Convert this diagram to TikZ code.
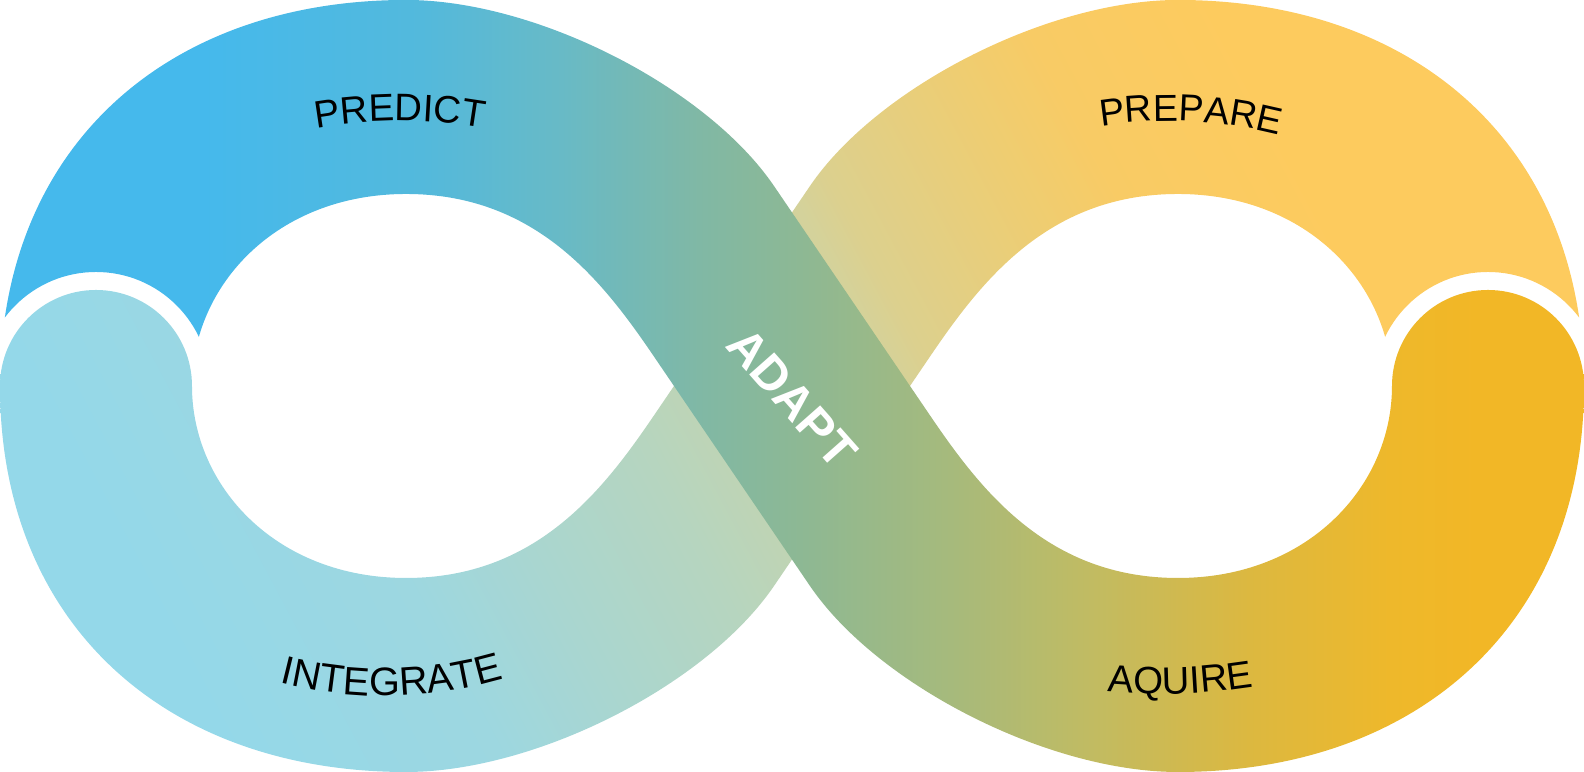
\documentclass[tikz,border=0pt]{standalone}
\usepackage{fontspec}
\newfontfamily\labelfont{Liberation Sans}
\usetikzlibrary{decorations.text}

\definecolor{blueA}{HTML}{45B9EC}
\definecolor{blueB}{HTML}{53B9DC}
\definecolor{tealA}{HTML}{68BAC6}
\definecolor{tealB}{HTML}{80B8A5}
\definecolor{greenA}{HTML}{8DB894}
\definecolor{greenB}{HTML}{A6BA7C}
\definecolor{oliveA}{HTML}{C1BB62}
\definecolor{oliveB}{HTML}{DCB840}
\definecolor{goldA}{HTML}{EEB82B}
\definecolor{goldB}{HTML}{F2B726}

\definecolor{skyA}{HTML}{94D8E9}
\definecolor{skyB}{HTML}{9DD7E0}
\definecolor{mintA}{HTML}{A9D6D0}
\definecolor{mintB}{HTML}{B6D5BF}
\definecolor{paleA}{HTML}{D4D29B}
\definecolor{paleB}{HTML}{DCD08E}
\definecolor{sandA}{HTML}{EECD72}
\definecolor{sandB}{HTML}{F8CB65}
\definecolor{sandC}{HTML}{FDCB5E}

\pgfdeclarehorizontalshading{frontfade}{100bp}{color(0bp)=(blueA); color(33.6bp)=(blueA);
  color(39.7bp)=(blueB); color(43.6bp)=(tealA); color(47.4bp)=(tealB); color(50.2bp)=(greenA);
  color(54.4bp)=(greenB); color(58.3bp)=(oliveA); color(62.7bp)=(oliveB); color(66.6bp)=(goldA);
  color(69.1bp)=(goldB); color(100bp)=(goldB)}
\pgfdeclarehorizontalshading{backfade}{100bp}{color(0bp)=(skyA); color(31.3bp)=(skyA);
  color(38bp)=(skyB); color(41.4bp)=(mintA); color(45.6bp)=(mintB); color(52.5bp)=(paleA);
  color(53.6bp)=(paleB); color(58.1bp)=(sandA); color(60.5bp)=(sandB); color(65.4bp)=(sandC);
  color(100bp)=(sandC)}

\newcommand\frontband{(-7.92,0) .. controls (-7.92,2.4) and (-6.24,3.86) .. (-3.86,3.86)
  .. controls (-2.56,3.86) and (-0.855,2.99) .. (-0.18,2) -- (1.384,-0.3)
  .. controls (1.89,-1.044) and (2.56,-1.92) .. (3.86,-1.92)
  .. controls (5.16,-1.92) and (6,-1) .. (6,0)
  arc[start angle=180, end angle=0, radius=0.96]
  .. controls (7.92,-2.4) and (6.24,-3.86) .. (3.86,-3.86)
  .. controls (2.56,-3.86) and (0.855,-2.99) .. (0.18,-2) -- (-1.384,0.3)
  .. controls (-1.89,1.044) and (-2.56,1.92) .. (-3.86,1.92)
  .. controls (-5.16,1.92) and (-6,1) .. (-6,0) -- cycle}
\newcommand\backband{(7.92,0) .. controls (7.92,2.4) and (6.24,3.86) .. (3.86,3.86)
  .. controls (2.56,3.86) and (0.855,2.99) .. (0.18,2) -- (-1.384,-0.3)
  .. controls (-1.89,-1.044) and (-2.56,-1.92) .. (-3.86,-1.92)
  .. controls (-5.16,-1.92) and (-6,-1) .. (-6,0)
  arc[start angle=0, end angle=180, radius=0.96]
  .. controls (-7.92,-2.4) and (-6.24,-3.86) .. (-3.86,-3.86)
  .. controls (-2.56,-3.86) and (-0.855,-2.99) .. (-0.18,-2) -- (1.384,0.3)
  .. controls (1.89,1.044) and (2.56,1.92) .. (3.86,1.92)
  .. controls (5.16,1.92) and (6,1) .. (6,0) -- cycle}

\tikzset{
  bandlabel/.style 2 args={decorate, decoration={text along path, text align=center,
    text={|\labelfont\fontsize{#2}{12}\selectfont|#1}}},
}

\begin{document}
\begin{tikzpicture}
  \useasboundingbox (-7.92,-3.86) rectangle (7.92,3.86);

  \coordinate (lcap) at (-6.96,0);
  \coordinate (rcap) at (6.96,0);

  \begin{scope}
    \clip (-9,-9) -- (-9,9) -- (9,9) -- (9,-9) -- cycle (rcap) circle (1.14);
    \clip \backband;
    \shade[shading=backfade, shading angle=28] (-9,-9) rectangle (9,9);
  \end{scope}

  \begin{scope}
    \clip (-9,-9) -- (-9,9) -- (9,9) -- (9,-9) -- cycle (lcap) circle (1.14);
    \clip \frontband;
    \shade[shading=frontfade] (-9,-9) rectangle (9,9);
  \end{scope}

  \path[bandlabel={PREDICT}{10.9}, shift={(-3.92,-2.15)}] (115:4.8) arc[start angle=115, end angle=65, radius=4.8];
  \path[bandlabel={PREPARE}{10.7}, shift={(3.78,-1.75)}] (112.3:4.4) arc[start angle=112.3, end angle=62.3, radius=4.4];
  \path[bandlabel={INTEGRATE}{11.3}, shift={(-4.07,1.1)}] (241:4.2) arc[start angle=241, end angle=301, radius=4.2];
  \path[bandlabel={AQUIRE}{10.9}, shift={(3.68,2.92)}] (247:6) arc[start angle=247, end angle=297, radius=6];

  \node[rotate=-48.5, text=white, inner sep=0,
    font=\labelfont\bfseries\fontsize{13.8}{14}\selectfont] (adapt) at (0,-0.12) {ADAPT};
\end{tikzpicture}
\end{document}
